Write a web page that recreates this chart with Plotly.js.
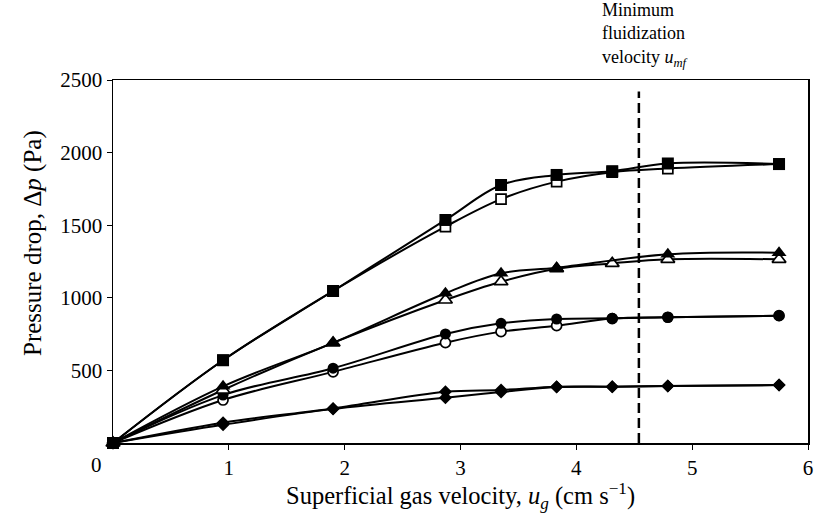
<!DOCTYPE html>
<html>
<head>
<meta charset="utf-8">
<script src="https://cdn.plot.ly/plotly-3.0.1.min.js"></script>
<style>html,body{margin:0;padding:0;background:#fff;}#chart{width:815px;height:526px;}</style>
</head>
<body>
<div id="chart"></div>
<script>
// Superficial gas velocity (cm/s)
const uAll = [0.0, 0.95, 1.9, 2.87, 3.35, 3.83, 4.31, 4.79, 5.75];
const uTriFilled = [0.0, 0.95, 1.9, 2.87, 3.35, 3.83, 4.79, 5.75];

// Pressure drop (Pa)
const squaresFilled = [0, 570, 1047, 1536, 1777, 1846, 1872, 1925, 1921];
const squaresOpen   = [0, 570, 1047, 1490, 1680, 1800, 1865, 1890, 1921];
const trianglesFilled = [0, 390, 690, 1031, 1169, 1207, 1300, 1311];
const trianglesOpen   = [0, 365, 690, 985, 1111, 1200, 1237, 1265, 1265];
const circlesFilled = [0, 330, 515, 751, 824, 854, 859, 866, 877];
const circlesOpen   = [0, 296, 490, 691, 767, 808, 857, 866, 877];
const diamondsA = [0, 140, 238, 353, 365, 388, 388, 393, 399];
const diamondsB = [0, 125, 235, 312, 351, 385, 388, 393, 399];

const uMf = 4.54;
const dashTop = 2420;

const xTicks = [1, 2, 3, 4, 5, 6];
const yTicks = [500, 1000, 1500, 2000, 2500];

const xTitle = 'Superficial gas velocity, <i>u</i><sub><i>g</i></sub> (cm s<sup>\u22121</sup>)';
const yTitle = 'Pressure drop, \u0394<i>p</i> (Pa)';
const noteText = 'Minimum<br>fluidization<br>velocity <i>u</i><sub><i>mf</i></sub>';

function series(x, y, symbol, open, size) {
  return {
    x: x, y: y, type: 'scatter', mode: 'lines+markers',
    cliponaxis: false,
    line: {color: '#000', width: 2, shape: 'spline', smoothing: 1},
    marker: {
      symbol: symbol, size: size,
      color: open ? '#fff' : '#000',
      line: {color: '#000', width: open ? 1.7 : 0}
    },
    showlegend: false, hoverinfo: 'skip'
  };
}

const data = [
  series(uAll, diamondsB, 'diamond', false, 10),
  series(uAll, diamondsA, 'diamond', false, 10),
  series(uAll, circlesOpen, 'circle', true, 10),
  series(uAll, circlesFilled, 'circle', false, 11),
  series(uAll, trianglesOpen, 'triangle-up', true, 12),
  series(uTriFilled, trianglesFilled, 'triangle-up', false, 13),
  series(uAll, squaresOpen, 'square', true, 10),
  series(uAll, squaresFilled, 'square', false, 12)
];

const fontFam = 'Liberation Serif, Times New Roman, serif';

const layout = {
  width: 815, height: 526,
  margin: {l: 113, r: 7, t: 80, b: 83},
  paper_bgcolor: '#fff', plot_bgcolor: '#fff',
  font: {family: fontFam, color: '#000', size: 20},
  xaxis: {
    range: [0, 6], tickvals: xTicks, ticktext: xTicks.map(String),
    showgrid: false, zeroline: false,
    showline: true, linecolor: '#000', linewidth: 1.5, mirror: true,
    ticks: 'outside', ticklen: 5, tickwidth: 1, tickcolor: '#000',
    tickfont: {family: fontFam, size: 21, color: '#000'}
  },
  yaxis: {
    range: [0, 2500], tickvals: yTicks, ticktext: yTicks.map(String),
    showgrid: false, zeroline: false,
    showline: true, linecolor: '#000', linewidth: 1.5, mirror: true,
    ticks: 'outside', ticklen: 5, tickwidth: 1, tickcolor: '#000',
    tickfont: {family: fontFam, size: 21, color: '#000'}
  },
  shapes: [{
    type: 'line', xref: 'x', yref: 'y',
    x0: uMf, x1: uMf, y0: 0, y1: dashTop,
    line: {color: '#000', width: 2.5, dash: '10px,5px'}
  }],
  annotations: [
    {
      xref: 'paper', yref: 'paper', x: 0.5, y: (443 - 496) / 363,
      xanchor: 'center', yanchor: 'middle', showarrow: false,
      text: xTitle, font: {family: fontFam, size: 24.5, color: '#000'}
    },
    {
      xref: 'paper', yref: 'paper', x: (33 - 113) / 695, y: (443 - 243) / 363,
      xanchor: 'center', yanchor: 'middle', showarrow: false, textangle: -90,
      text: yTitle, font: {family: fontFam, size: 25, color: '#000'}
    },
    {
      xref: 'paper', yref: 'paper', x: (600 - 113) / 695, y: (443 - 35) / 363,
      xanchor: 'left', yanchor: 'middle', align: 'left', showarrow: false,
      text: noteText, font: {family: fontFam, size: 18, color: '#000'}
    },
    {
      xref: 'paper', yref: 'paper', x: (96 - 113) / 695, y: (443 - 465) / 363,
      xanchor: 'center', yanchor: 'middle', showarrow: false,
      text: '0', font: {family: fontFam, size: 21, color: '#000'}
    }
  ]
};

Plotly.newPlot('chart', data, layout, {displayModeBar: false, staticPlot: true});
</script>
</body>
</html>
